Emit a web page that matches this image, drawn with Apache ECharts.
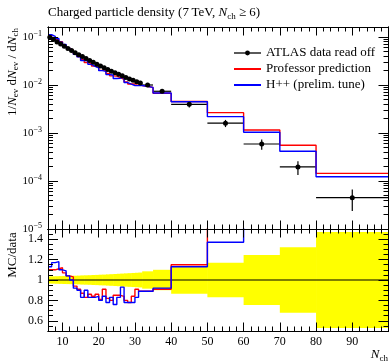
<!DOCTYPE html>
<html>
<head>
<meta charset="utf-8">
<script src="https://cdn.jsdelivr.net/npm/echarts@6.0.0/dist/echarts.min.js"></script>
<style>
html,body{margin:0;padding:0;background:#fff;}
#chart{width:390px;height:364px;}
</style>
</head>
<body>
<div id="chart"></div>
<script>
// ---- data ----
const binEdges = [6,7,8,9,10,11,12,13,14,15,16,17,18,19,20,21,22,23,24,25,26,27,28,29,30,31,32,35,40,50,60,70,80,100];
const dataValues = [0.0986,0.0882,0.0791,0.0711,0.0640,0.0577,0.0522,0.0472,0.0428,0.0390,0.0355,0.0324,0.0296,0.0271,0.0249,0.0229,0.0211,0.0194,0.0180,0.0167,0.0155,0.0144,0.0134,0.0125,0.0117,0.0110,0.0100,0.0074,0.00395,0.0016,0.00059,0.000196,0.000045];
const dataRelErr = [0.035,0.036,0.037,0.038,0.039,0.040,0.041,0.042,0.043,0.045,0.046,0.047,0.049,0.050,0.052,0.053,0.055,0.057,0.059,0.061,0.063,0.065,0.067,0.069,0.071,0.073,0.085,0.10,0.135,0.17,0.245,0.32,0.47];
const professorRatio = [1.10,1.10,1.11,1.12,1.07,1.04,1.03,0.94,0.91,0.87,0.83,0.86,0.84,0.86,0.81,0.91,0.82,0.80,0.85,0.85,0.84,0.80,0.78,0.84,0.91,0.89,0.89,0.91,1.15,1.66,1.95,2.83,3.20];
const herwigRatio = [1.13,1.17,1.18,1.10,1.09,1.04,1.00,0.92,0.90,0.83,0.90,0.83,0.83,0.84,0.80,0.84,0.78,0.83,0.76,0.83,0.93,0.78,0.78,0.78,0.83,0.89,0.89,0.92,1.13,1.37,1.76,2.13,2.73];
const xMajorTicks = [10,20,30,40,50,60,70,80,90];
const xMinorTicks = [6,8,12,14,16,18,22,24,26,28,32,34,36,38,42,44,46,48,52,54,56,58,62,64,66,68,72,74,76,78,82,84,86,88,92,94,96,98];
const yMainTicks = [1e-5,1e-4,1e-3,1e-2,1e-1];
const yMinorTicks = [2e-5,3e-5,4e-5,5e-5,6e-5,7e-5,8e-5,9e-5,2e-4,3e-4,4e-4,5e-4,6e-4,7e-4,8e-4,9e-4,2e-3,3e-3,4e-3,5e-3,6e-3,7e-3,8e-3,9e-3,0.02,0.03,0.04,0.05,0.06,0.07,0.08,0.09];
const ratioTicks = [0.6,0.8,1,1.2,1.4];
const ratioMinorTicks = [0.55,0.65,0.7,0.75,0.85,0.9,0.95,1.05,1.1,1.15,1.25,1.3,1.35,1.45];
const legendNames = ['ATLAS data read off','Professor prediction','H++ (prelim. tune)'];

const FONT = '"Liberation Serif","DejaVu Serif",serif';
const TICK = '#000';
const nb = dataValues.length;

function stepData(vals){
  const d = [];
  for (let i = 0; i < nb; i++) d.push([binEdges[i], vals[i]]);
  d.push([binEdges[nb], vals[nb-1]]);
  return d;
}
const profMain = dataValues.map((v,i) => v * professorRatio[i]);
const hppMain = dataValues.map((v,i) => v * herwigRatio[i]);
const binTable = dataValues.map((v,i) => [binEdges[i], binEdges[i+1], v, dataRelErr[i]]);
const centers = dataValues.map((v,i) => [(binEdges[i]+binEdges[i+1])/2, v]);

function axLine(){ return {show:true, onZero:false, lineStyle:{color:'#000', width:1}}; }
function tick(ticks, len){ return {show:true, inside:true, length:len, customValues:ticks.slice(), lineStyle:{color:TICK, width:1}}; }
function xAx(grid, pos, ticks, len, labels){
  return {type:'value', gridIndex:grid, position:pos, min:6, max:100,
    axisLine:axLine(), splitLine:{show:false}, z:5,
    axisTick:tick(ticks, len),
    axisLabel: labels ? {show:true, customValues:xMajorTicks.slice(), margin:5, color:'#000', fontSize:12, fontFamily:FONT} : {show:false}
  };
}
function yLog(pos, ticks, len, labels){
  return {type:'log', logBase:10, gridIndex:0, position:pos, min:1e-5, max:0.1615,
    axisLine:axLine(), splitLine:{show:false}, minorTick:{show:false}, z:5,
    axisTick:tick(ticks, len),
    axisLabel: labels ? {show:true, customValues:yMainTicks.slice(), margin:6,
      formatter: v => '{m|10}{e|\u2212' + Math.round(-Math.log10(v)) + '}',
      rich:{m:{fontSize:11, fontFamily:FONT, color:'#000', lineHeight:14},
            e:{fontSize:8, fontFamily:FONT, color:'#000', lineHeight:8, verticalAlign:'top'}}
    } : {show:false}
  };
}
function yRat(pos, ticks, len, labels){
  return {type:'value', gridIndex:1, position:pos, min:0.5, max:1.5,
    axisLine:axLine(), splitLine:{show:false}, z:5,
    axisTick:tick(ticks, len),
    axisLabel: labels ? {show:true, customValues:ratioTicks.slice(), margin:5, color:'#000', fontSize:12, fontFamily:FONT} : {show:false}
  };
}

const chart = echarts.init(document.getElementById('chart'), null, {renderer:'canvas'});
const sub = {fontSize:9, fontFamily:FONT, fill:'#000', lineHeight:8, verticalAlign:'bottom'};
const nrm = {fontSize:13, fontFamily:FONT, fill:'#000', lineHeight:16};
const ita = {fontSize:13, fontFamily:FONT, fill:'#000', lineHeight:16, fontStyle:'italic'};

chart.setOption({
  animation:false,
  backgroundColor:'#fff',
  grid:[
    {left:48, top:27, width:340.5, height:202, show:false, outerBoundsMode:'none'},
    {left:48, top:229, width:340.5, height:102, show:false, outerBoundsMode:'none'}
  ],
  xAxis:[
    xAx(0,'bottom',xMajorTicks,8.5,false), xAx(0,'bottom',xMinorTicks,4.5,false),
    xAx(0,'top',xMajorTicks,8.5,false), xAx(0,'top',xMinorTicks,4.5,false),
    xAx(1,'bottom',xMajorTicks,8.5,true), xAx(1,'bottom',xMinorTicks,4.5,false),
    xAx(1,'top',xMajorTicks,8.5,false), xAx(1,'top',xMinorTicks,4.5,false)
  ],
  yAxis:[
    yLog('left',yMainTicks,10,true), yLog('left',yMinorTicks,5,false),
    yLog('right',yMainTicks,10,false), yLog('right',yMinorTicks,5,false),
    yRat('left',ratioTicks,10,true), yRat('left',ratioMinorTicks,5,false),
    yRat('right',ratioTicks,10,false), yRat('right',ratioMinorTicks,5,false)
  ],
  legend:{
    show:true, selectedMode:false, orient:'vertical', left:228, top:41,
    itemWidth:27, itemHeight:6, itemGap:2,
    textStyle:{fontSize:13, fontFamily:FONT, color:'#000', lineHeight:14},
    data:[
      {name:legendNames[0], lineStyle:{color:'#000', width:1.3, opacity:1}, itemStyle:{color:'#000'}},
      {name:legendNames[1], itemStyle:{opacity:0}},
      {name:legendNames[2], itemStyle:{opacity:0}}
    ]
  },
  series:[
    {name:legendNames[1], type:'line', xAxisIndex:0, yAxisIndex:0, step:'end', symbol:'none',
     data:stepData(profMain), lineStyle:{color:'#ff0000', width:1.4}, itemStyle:{color:'#ff0000'}},
    {name:legendNames[2], type:'line', xAxisIndex:0, yAxisIndex:0, step:'end', symbol:'none',
     data:stepData(hppMain), lineStyle:{color:'#0000ff', width:1.4}, itemStyle:{color:'#0000ff'}},
    {name:'data errors', type:'custom', xAxisIndex:0, yAxisIndex:0, data:binTable,
     encode:{x:[0,1], y:2},
     renderItem:(params, api) => {
       const lo = api.value(0), hi = api.value(1), v = api.value(2), e = api.value(3);
       const c = (lo+hi)/2;
       const pL = api.coord([lo, v]), pR = api.coord([hi, v]);
       const pT = api.coord([c, v*(1+e)]), pB = api.coord([c, v*(1-e)]);
       return {type:'group', children:[
         {type:'line', shape:{x1:pL[0], y1:pL[1], x2:pR[0], y2:pR[1]}, style:{stroke:'#000', lineWidth:1.2}},
         {type:'line', shape:{x1:pT[0], y1:pT[1], x2:pB[0], y2:pB[1]}, style:{stroke:'#000', lineWidth:1.2}}
       ]};
     }},
    {name:legendNames[0], type:'line', xAxisIndex:0, yAxisIndex:0, symbol:'circle', symbolSize:5,
     showSymbol:true, data:centers, lineStyle:{opacity:0, width:0}, itemStyle:{color:'#000'}},
    {name:'band', type:'custom', xAxisIndex:4, yAxisIndex:4, data:binTable,
     encode:{x:[0,1], y:3},
     renderItem:(params, api) => {
       const lo = api.value(0), hi = api.value(1), e = api.value(3);
       const p1 = api.coord([lo, 1+e]), p2 = api.coord([hi, 1-e]);
       return {type:'rect', shape:{x:p1[0], y:p1[1], width:p2[0]-p1[0]+0.5, height:p2[1]-p1[1]},
               style:{fill:'#ffff00'}};
     }},
    {name:'unity', type:'line', xAxisIndex:4, yAxisIndex:4, symbol:'none',
     data:[[6,1],[100,1]], lineStyle:{color:'#000', width:1.2}},
    {name:'Professor ratio', type:'line', xAxisIndex:4, yAxisIndex:4, step:'end', symbol:'none',
     data:stepData(professorRatio), lineStyle:{color:'#ff0000', width:1.4}},
    {name:'H++ ratio', type:'line', xAxisIndex:4, yAxisIndex:4, step:'end', symbol:'none',
     data:stepData(herwigRatio), lineStyle:{color:'#0000ff', width:1.4}}
  ],
  graphic:[
    {type:'text', x:48, y:13, style:{text:'{n|Charged particle density (7\u2009TeV, }{i|N}{s|ch}{n| \u2265 6)}',
      rich:{n:nrm, i:ita, s:sub}, align:'left', verticalAlign:'middle'}},
    {type:'text', x:12.5, y:72, rotation:Math.PI/2, style:{text:'{n|1/}{i|N}{s|ev}{n| d}{i|N}{s|ev}{n| / d}{i|N}{s|ch}',
      rich:{n:nrm, i:ita, s:sub}, align:'center', verticalAlign:'middle'}},
    {type:'text', x:12.5, y:255, rotation:Math.PI/2, style:{text:'{n|MC/data}',
      rich:{n:nrm}, align:'center', verticalAlign:'middle'}},
    {type:'text', x:388, y:355, style:{text:'{i|N}{s|ch}',
      rich:{i:ita, s:sub}, align:'right', verticalAlign:'middle'}}
  ]
});
</script>
</body>
</html>
